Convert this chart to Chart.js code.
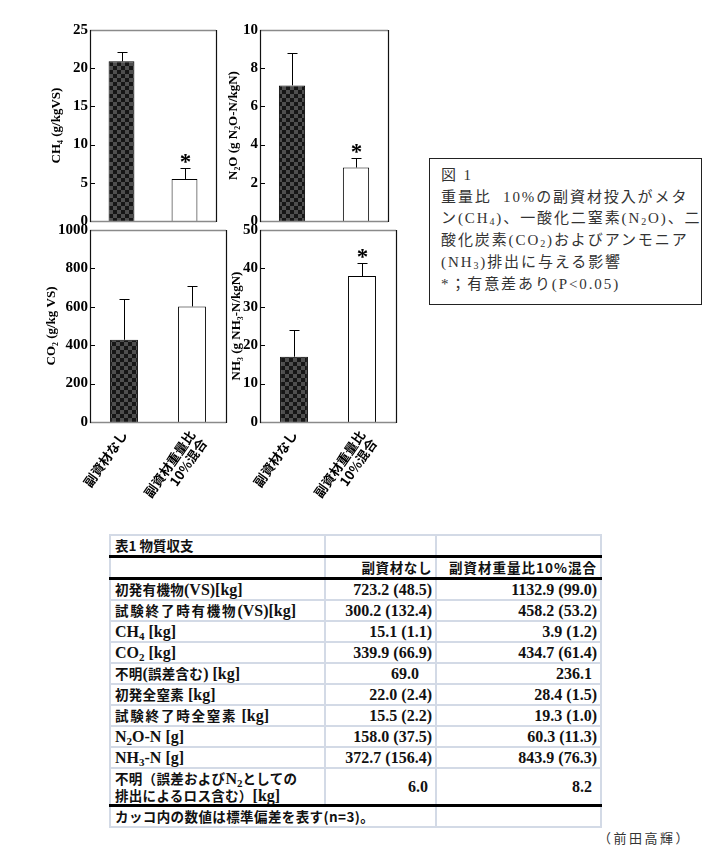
<!DOCTYPE html>
<html>
<head>
<meta charset="utf-8">
<script src="https://cdn.jsdelivr.net/npm/chart.js@4.4.1/dist/chart.umd.min.js"></script>
<style>
  html, body { margin:0; padding:0; background:#fff; }
  body { width:710px; height:850px; position:relative; overflow:hidden; }
  canvas { position:absolute; }
  #caption { position:absolute; left:429px; top:158px; width:273px; height:147px; border:1.5px solid #222;
    box-sizing:border-box; padding:6px 0 0 11px; font-family:"Liberation Serif","Noto Sans CJK JP",serif;
    font-size:15px; line-height:21.7px; color:#333; letter-spacing:1.9px; white-space:nowrap; }
  #caption sub { font-size:10px; vertical-align:-2px; line-height:0; }
  #tbl { position:absolute; left:109px; top:534px; border-collapse:collapse; table-layout:fixed; width:491px;
    font-family:"Liberation Serif","Noto Sans CJK JP",serif; font-weight:bold; font-size:16px; color:#111; }
  #tbl td { border:2px solid #d3dae6; padding:0 3px 0 4px; height:19px; line-height:17px; white-space:nowrap; overflow:visible; }
  #tbl td.num { text-align:right; }
  #tbl sub { font-size:11px; vertical-align:-3px; line-height:0; }
  #tbl tr.thick td { border-bottom:3px solid #000; }
  #tbl tr.thin td { border-bottom:1px solid #000; }
  #tbl .jp { font-family:"Noto Sans CJK JP",sans-serif; font-size:13.5px; }
  #tbl .goth { font-family:"Noto Sans CJK JP",sans-serif; font-size:13.5px; }
  #author { position:absolute; left:598px; top:828px; font-family:"Noto Sans CJK JP",sans-serif; font-size:13px;
    letter-spacing:2.5px; color:#333; }
</style>
</head>
<body>
<canvas id="cCH4" width="171" height="215" style="left:49px;top:18px"></canvas>
<canvas id="cN2O" width="166" height="215" style="left:226px;top:18px"></canvas>
<canvas id="cCO2" width="186" height="302" style="left:44px;top:218px"></canvas>
<canvas id="cNH3" width="171" height="302" style="left:229px;top:218px"></canvas>

<div id="caption">図 1<br>重量比&nbsp; 10%の副資材投入がメタ<br>ン(CH<sub>4</sub>)、一酸化二窒素(N<sub>2</sub>O)、二<br>酸化炭素(CO<sub>2</sub>)およびアンモニア<br>(NH<sub>3</sub>)排出に与える影響<br>*；有意差あり(P&lt;0.05)</div>

<table id="tbl"></table>
<div id="author">（前田高輝）</div>

<script>
// ---------------- data ----------------
const categories = ['副資材なし', ['副資材重量比', '10%混合']];

const ch4Values = [20.9, 5.5];
const ch4Errors = [1.2, 1.4];
const ch4Signif = [false, true];

const n2oValues = [7.1, 2.8];
const n2oErrors = [1.7, 0.5];
const n2oSignif = [false, true];

const co2Values = [428, 602];
const co2Errors = [212, 104];
const co2Signif = [false, false];

const nh3Values = [17.0, 38.0];
const nh3Errors = [7.0, 3.4];
const nh3Signif = [false, true];

const yMaxes = { ch4: 25, n2o: 10, co2: 1000, nh3: 50 };
const ySteps = { ch4: 5, n2o: 2, co2: 200, nh3: 10 };

const yTitles = {
  ch4: 'CH\u2084 (g/kgVS)',
  n2o: 'N\u2082O (g N\u2082O-N/kgN)',
  co2: 'CO\u2082 (g/kg VS)',
  nh3: 'NH\u2083 (g NH\u2083-N/kgN)'
};

// table
const tableTitle = '表1 物質収支';
const tableHeaders = ['副資材なし', '副資材重量比10%混合'];
const tableLabels = [
  '初発有機物(VS)[kg]',
  '試験終了時有機物(VS)[kg]',
  'CH<sub>4</sub> [kg]',
  'CO<sub>2</sub> [kg]',
  '不明(誤差含む) [kg]',
  '初発全窒素 [kg]',
  '試験終了時全窒素 [kg]',
  'N<sub>2</sub>O-N [g]',
  'NH<sub>3</sub>-N [g]',
  '不明（誤差およびN<sub>2</sub>としての<br>排出によるロス含む）[kg]'
];
const tableNone = ['723.2 (48.5)', '300.2 (132.4)', '15.1 (1.1)', '339.9 (66.9)', '69.0',
                   '22.0 (2.4)', '15.5 (2.2)', '158.0 (37.5)', '372.7 (156.4)', '6.0'];
const tableMixed = ['1132.9 (99.0)', '458.2 (53.2)', '3.9 (1.2)', '434.7 (61.4)', '236.1',
                    '28.4 (1.5)', '19.3 (1.0)', '60.3 (11.3)', '843.9 (76.3)', '8.2'];
const tableNote = 'カッコ内の数値は標準偏差を表す(n=3)。';

// ---------------- table build ----------------
(function () {
  const t = document.getElementById('tbl');
  const rowH = [19, 19, 19, 19, 19, 19, 19, 19, 19, 35];
  const jpSpacing = [0.3, 1.8, 0, 0, 0.3, 0.3, 1.8, 0, 0, 0.3];
  const padNone = [3, 3, 3, 3, 16, 3, 3, 3, 3, 7];
  const padMixed = [3, 3, 3, 3, 8, 3, 3, 3, 3, 8];
  const jp = (s, sp) => s.replace(/([\u3000-\u30ff\u4e00-\u9fff\uff00-\uffef]+)/g,
    `<span class="jp" style="letter-spacing:${sp}px">$1</span>`);
  let html = '<colgroup><col style="width:215px"><col style="width:111px"><col style="width:165px"></colgroup>';
  html += `<tr class="thick"><td class="goth" style="height:16px">${tableTitle}</td><td></td><td></td></tr>`;
  html += `<tr class="thick"><td style="height:17px"></td><td class="num goth" style="letter-spacing:0.6px">${tableHeaders[0]}</td><td class="num goth" style="letter-spacing:1px">${tableHeaders[1]}</td></tr>`;
  for (let i = 0; i < tableLabels.length; i++) {
    const cls = i === 4 ? 'thin' : (i === tableLabels.length - 1 ? 'thick' : '');
    html += `<tr class="${cls}"><td style="height:${rowH[i]}px">${jp(tableLabels[i], jpSpacing[i])}</td>` +
      `<td class="num" style="padding-right:${padNone[i]}px">${tableNone[i]}</td>` +
      `<td class="num" style="padding-right:${padMixed[i]}px">${tableMixed[i]}</td></tr>`;
  }
  html += `<tr><td colspan="2" class="goth" style="height:18px;letter-spacing:0.4px">${tableNote}</td><td></td></tr>`;
  t.innerHTML = html;
})();

// ---------------- charts ----------------
function checker() {
  const c = document.createElement('canvas');
  c.width = 8; c.height = 8;
  const g = c.getContext('2d');
  g.fillStyle = '#4f4f4f'; g.fillRect(0, 0, 8, 8);
  g.fillStyle = '#161616'; g.fillRect(0, 0, 4, 4); g.fillRect(4, 4, 4, 4);
  return g.createPattern(c, 'repeat');
}

const boxPlugin = {
  id: 'boxAndErrors',
  afterDatasetsDraw(chart, args, opts) {
    const ctx = chart.ctx;
    const { left, top, right, bottom } = chart.chartArea;
    const y = chart.scales.y;
    const meta = chart.getDatasetMeta(0);
    const vals = chart.data.datasets[0].data;
    ctx.save();
    ctx.strokeStyle = '#000';
    ctx.lineWidth = 1;
    meta.data.forEach((el, i) => {
      const x = Math.round(el.x) + 0.5;
      const yTop = y.getPixelForValue(vals[i] + opts.err[i]);
      const yBar = y.getPixelForValue(vals[i]);
      ctx.beginPath();
      ctx.moveTo(x, yBar);
      ctx.lineTo(x, Math.round(yTop) + 0.5);
      ctx.moveTo(x - 5, Math.round(yTop) + 0.5);
      ctx.lineTo(x + 5, Math.round(yTop) + 0.5);
      ctx.stroke();
      if (opts.sig[i]) {
        ctx.fillStyle = '#000';
        ctx.font = 'bold 23px "Liberation Serif"';
        ctx.textAlign = 'center';
        ctx.textBaseline = 'alphabetic';
        ctx.fillText('*', x, yTop + 1);
      }
    });
    y.ticks.forEach(t => {
      const py = Math.round(y.getPixelForValue(t.value)) + 0.5;
      ctx.beginPath();
      ctx.moveTo(left, py);
      ctx.lineTo(left + 5, py);
      ctx.stroke();
    });
    ctx.lineWidth = 1.5;
    ctx.strokeStyle = '#8a8a8a';
    ctx.beginPath();
    ctx.moveTo(left, top + 0.5); ctx.lineTo(right, top + 0.5);
    ctx.moveTo(left, bottom + 0.5); ctx.lineTo(right, bottom + 0.5);
    ctx.stroke();
    ctx.strokeStyle = '#111';
    ctx.lineWidth = 1.2;
    ctx.beginPath();
    ctx.moveTo(left + 0.5, top); ctx.lineTo(left + 0.5, bottom + 1);
    ctx.moveTo(right + 0.5, top); ctx.lineTo(right + 0.5, bottom + 1);
    ctx.stroke();
    ctx.restore();
  }
};

function makeChart(id, values, errs, sig, key, yWidth, showX, xHeight) {
  const pattern = checker();
  return new Chart(document.getElementById(id), {
    type: 'bar',
    data: {
      labels: categories,
      datasets: [{
        data: values,
        backgroundColor: [pattern, '#ffffff'],
        borderColor: '#000',
        borderWidth: 1,
        borderSkipped: 'bottom',
        barPercentage: 0.41,
        categoryPercentage: 1.0
      }]
    },
    options: {
      responsive: false,
      animation: false,
      events: [],
      layout: { padding: { top: 12, right: 4, bottom: showX ? 0 : 12, left: 0 } },
      plugins: {
        legend: { display: false },
        tooltip: { enabled: false },
        boxAndErrors: { err: errs, sig: sig }
      },
      scales: {
        x: {
          display: showX,
          offset: true,
          grid: { display: false, drawTicks: false },
          border: { display: false },
          ticks: {
            minRotation: 55, maxRotation: 55, autoSkip: false, padding: 6,
            color: '#000',
            font: { family: '"Noto Sans CJK JP"', size: 13, weight: 'bold', lineHeight: 1.1 }
          },
          afterFit(s) { if (showX) s.height = xHeight; }
        },
        y: {
          min: 0, max: yMaxes[key],
          grid: { display: false, drawTicks: false },
          border: { display: false },
          ticks: {
            stepSize: ySteps[key], padding: 2, color: '#000',
            font: { family: '"Liberation Serif"', size: 15, weight: 'bold' },
            callback: v => String(v)
          },
          title: {
            display: true, text: yTitles[key], color: '#000',
            font: { family: '"Liberation Serif"', size: 13, weight: 'bold' },
            padding: { top: 0, bottom: 0 }
          },
          afterFit(s) { s.width = yWidth; }
        }
      }
    },
    plugins: [boxPlugin]
  });
}

makeChart('cCH4', ch4Values, ch4Errors, ch4Signif, 'ch4', 41, false, 0);
makeChart('cN2O', n2oValues, n2oErrors, n2oSignif, 'n2o', 34, false, 0);
makeChart('cCO2', co2Values, co2Errors, co2Signif, 'co2', 46, true, 98);
makeChart('cNH3', nh3Values, nh3Errors, nh3Signif, 'nh3', 31, true, 98);
</script>
</body>
</html>
